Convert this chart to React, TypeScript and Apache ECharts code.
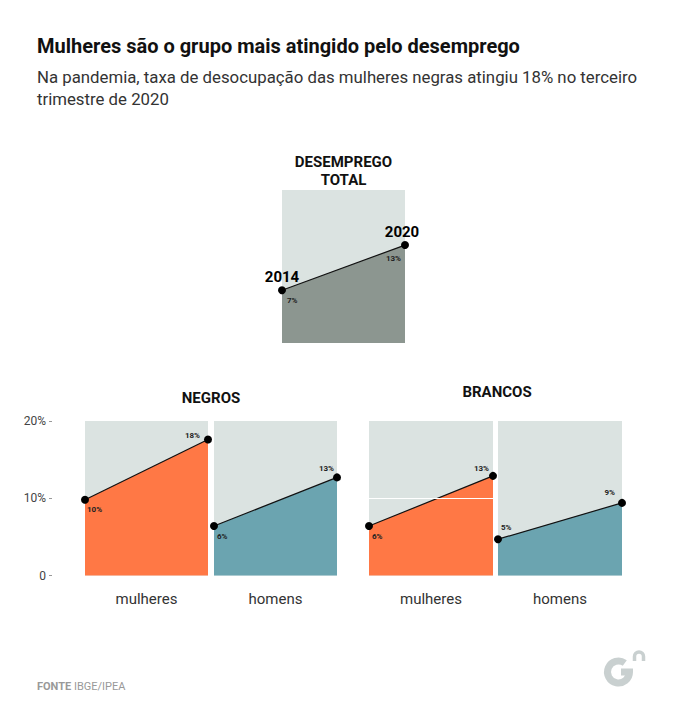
import React, { useEffect, useRef } from "react";
import * as echarts from "echarts";

const years = ["2014", "2020"];
const totalValues = [6.9, 12.8];
const negrosMulheres = [9.8, 17.6];
const negrosHomens = [6.4, 12.7];
const brancosMulheres = [6.4, 12.9];
const brancosHomens = [4.7, 9.4];
const yTicks = [0, 10, 20];
const categories = ["mulheres", "homens"];
const groupTitles = ["NEGROS", "BRANCOS"];

const FONT = "Roboto, 'Noto Sans', sans-serif";
const BG = "#dbe3e1";
const DARK = "#8c9690";
const ORANGE = "#ff7845";
const TEAL = "#6ba4b0";

echarts.graphic.registerShape(
  "logoG",
  echarts.graphic.extendPath("M 624.8 663 A 11 11 0 1 0 629.5 672 L 621 672", {})
);
echarts.graphic.registerShape(
  "logoN",
  echarts.graphic.extendPath("M 634.5 661 L 634.5 656.5 A 4.5 4.5 0 0 1 643.5 656.5 L 643.5 661", {})
);

export default function App() {
  const ref = useRef<HTMLDivElement>(null);
  useEffect(() => {
    document.body.style.margin = "0";
    const chart = echarts.init(ref.current!, null, { renderer: "svg" });

    const grids = [
      { left: 282, top: 190, width: 123, height: 153 },
      { left: 85, top: 421, width: 123, height: 154.5 },
      { left: 214, top: 421, width: 123, height: 154.5 },
      { left: 369, top: 421, width: 124, height: 154.5 },
      { left: 498, top: 421, width: 124, height: 154.5 },
    ].map((g) => ({ ...g, show: true, backgroundColor: BG, borderWidth: 0, containLabel: false }));

    const xNames = ["", categories[0], categories[1], categories[0], categories[1]];
    const xAxis = grids.map((_, i) => ({
      type: "category",
      gridIndex: i,
      data: years,
      boundaryGap: false,
      axisLine: { show: false },
      axisTick: { show: false },
      axisLabel: { show: false },
      splitLine: { show: false },
      name: xNames[i],
      nameLocation: "middle",
      nameGap: 16,
      nameTextStyle: { fontFamily: FONT, fontSize: 15, color: "#333", verticalAlign: "top" },
    }));

    const yAxis = grids.map((_, i) => ({
      type: "value",
      gridIndex: i,
      min: 0,
      max: 20,
      interval: 10,
      show: i === 1,
      offset: 33,
      axisLine: { show: false },
      axisTick: { show: true, length: 3, lineStyle: { color: "#999" } },
      axisLabel: {
        show: true,
        margin: 6,
        fontFamily: FONT,
        fontSize: 12,
        color: "#444",
        formatter: (v: number) => (yTicks.includes(v) ? (v === 0 ? "0" : v + "%") : ""),
      },
      splitLine: { show: false },
    }));

    const panels = [
      { data: totalValues, color: DARK, labels: [{ p: "right", o: [1, 10] }, { p: "left", o: [0, 13] }] },
      { data: negrosMulheres, color: ORANGE, labels: [{ p: "right", o: [-2, 10] }, { p: "left", o: [-4, -4] }] },
      { data: negrosHomens, color: TEAL, labels: [{ p: "right", o: [-1, 10] }, { p: "left", o: [1, -9] }] },
      { data: brancosMulheres, color: ORANGE, labels: [{ p: "right", o: [-1, 10] }, { p: "left", o: [0, -7] }] },
      { data: brancosHomens, color: TEAL, labels: [{ p: "right", o: [-1, -12] }, { p: "left", o: [-3, -10] }] },
    ];

    const series: any[] = panels.map((p, i) => ({
      type: "line",
      xAxisIndex: i,
      yAxisIndex: i,
      clip: false,
      symbol: "circle",
      symbolSize: 8,
      itemStyle: { color: "#000" },
      lineStyle: { color: "#111", width: 1.2 },
      areaStyle: { color: p.color, opacity: 1 },
      z: 3,
      data: p.data.map((v, j) => ({
        value: v,
        label: {
          show: true,
          position: p.labels[j].p,
          distance: 0,
          offset: p.labels[j].o,
          formatter: () => Math.round(v) + "%",
          fontFamily: FONT,
          fontSize: 8,
          fontWeight: "bold",
          color: "#222",
        },
      })),
      markLine:
        i === 3
          ? {
              silent: true,
              symbol: "none",
              label: { show: false },
              lineStyle: { color: "#fff", width: 1, type: "solid" },
              data: [{ yAxis: 10 }],
              z: 4,
            }
          : undefined,
    }));

    series.push({
      type: "scatter",
      xAxisIndex: 0,
      yAxisIndex: 0,
      symbolSize: 1,
      itemStyle: { color: "rgba(0,0,0,0)" },
      z: 5,
      data: totalValues.map((v, j) => ({
        value: [years[j], v],
        label: {
          show: true,
          position: "top",
          distance: 5,
          offset: j === 1 ? [-3, 0] : [0, 0],
          formatter: years[j],
          fontFamily: FONT,
          fontSize: 15,
          fontWeight: "bold",
          color: "#000",
          opacity: 1,
        },
      })),
    });

    const txt = (x: number, y: number, text: string, font: string, color: string, align = "left", lh?: number) => ({
      type: "text",
      x,
      y,
      style: {
        text,
        font,
        fill: color,
        textAlign: align,
        align,
        textVerticalAlign: "middle",
        verticalAlign: "middle",
        ...(lh ? { lineHeight: lh } : {}),
      },
    });

    const graphic: any[] = [
      txt(37, 46, "Mulheres são o grupo mais atingido pelo desemprego", `bold 20px ${FONT}`, "#111"),
      txt(37, 77, "Na pandemia, taxa de desocupação das mulheres negras atingiu 18% no terceiro", `16.8px ${FONT}`, "#333"),
      txt(37, 99, "trimestre de 2020", `16.8px ${FONT}`, "#333"),
      txt(343.5, 171, "DESEMPREGO\nTOTAL", `bold 15px ${FONT}`, "#111", "center", 18),
      txt(211, 398, groupTitles[0], `bold 15px ${FONT}`, "#111", "center"),
      txt(497, 392, groupTitles[1], `bold 15px ${FONT}`, "#111", "center"),
      {
        type: "text",
        x: 37,
        y: 686,
        style: {
          text: "{b|FONTE} IBGE/IPEA",
          font: `11px ${FONT}`,
          fill: "#999",
          verticalAlign: "middle",
          textVerticalAlign: "middle",
          rich: { b: { fontWeight: "bold", fontSize: 11, fontFamily: FONT, fill: "#999", color: "#999" } },
        },
      },
      {
        type: "logoG",
        x: 0,
        y: 0,
        style: { fill: "none", stroke: "#c9d0d0", lineWidth: 7 },
      },
      {
        type: "logoN",
        x: 0,
        y: 0,
        style: { fill: "none", stroke: "#c9d0d0", lineWidth: 3.5 },
      },
    ];

    chart.setOption({
      animation: false,
      backgroundColor: "#fff",
      grid: grids,
      xAxis,
      yAxis,
      series,
      graphic,
    } as any);

    return () => chart.dispose();
  }, []);

  return <div ref={ref} style={{ width: 683, height: 708 }} />;
}
